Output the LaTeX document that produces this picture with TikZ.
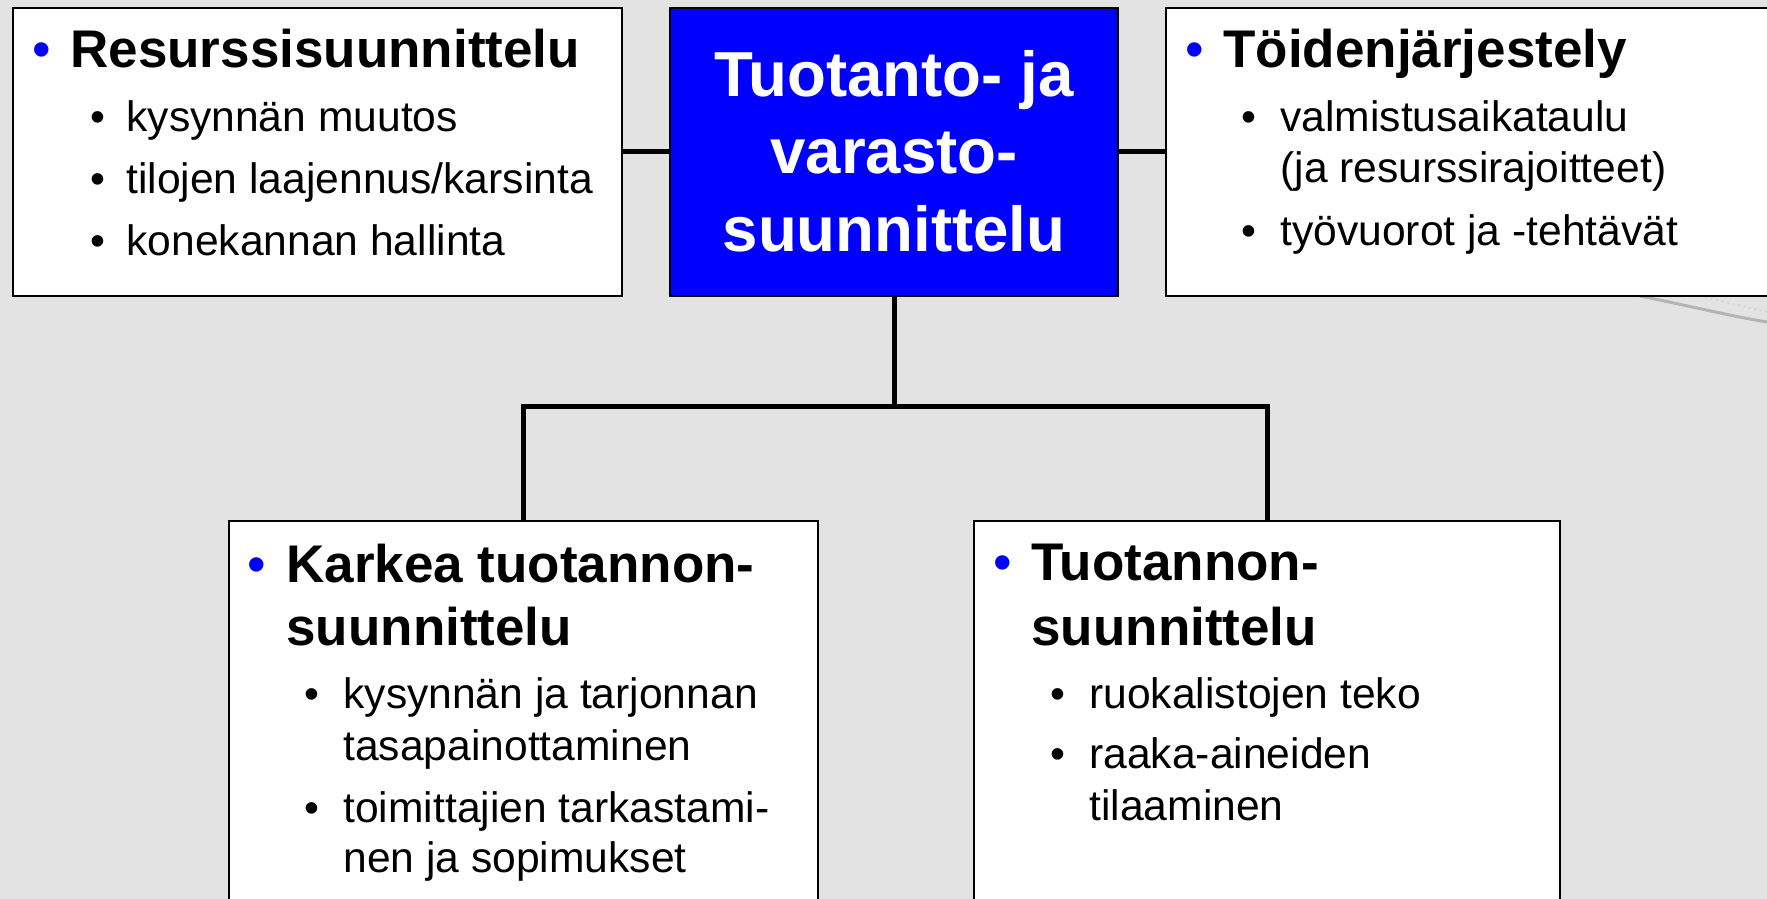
\documentclass[tikz,border=0pt]{standalone}
\usepackage{fontspec}
\setmainfont{Liberation Sans}
\definecolor{bgc}{HTML}{E3E3E3}
\definecolor{pblue}{HTML}{0000FF}
\definecolor{arcgray}{HTML}{B4B4B4}
\begin{document}
\begin{tikzpicture}[x=0.5pt,y=-0.5pt,
  box/.style={draw=black,line width=1pt,fill=white,rectangle,inner sep=0pt,anchor=north west},
  conn/.style={draw=black,line width=2.5pt},
  head/.style={anchor=base west,inner sep=0pt,font=\bfseries\fontsize{26.5}{32}\selectfont},
  hbul/.style={anchor=base west,inner sep=0pt,text=pblue,font=\fontsize{26.5}{32}\selectfont},
  sbul/.style={anchor=base west,inner sep=0pt,font=\fontsize{21.3}{25.6}\selectfont},
  sub/.style={anchor=base west,inner sep=0pt,font=\fontsize{21.3}{25.6}\selectfont},
  ctrtext/.style={anchor=base,inner sep=0pt,text=white,font=\bfseries\fontsize{31.8}{38}\selectfont}]
\clip (0,0) rectangle (1767,899);
\fill[bgc] (0,0) rectangle (1767,899);
% faint background arc
\draw[arcgray,line width=1.5pt] (1640,296) .. controls (1690,306) and (1730,316) .. (1767,322);
\draw[arcgray!60,line width=0.8pt,dotted] (1700,296) .. controls (1730,303) and (1750,308) .. (1767,312);

% boxes
\node[box,minimum width=304.5pt,minimum height=144pt] (res) at (12,7) {};
\node[box,fill=pblue,minimum width=224pt,minimum height=144pt] (ctr) at (669,7) {};
\node[box,minimum width=320pt,minimum height=144pt] (toi) at (1165,7) {};
\node[box,minimum width=294.5pt,minimum height=230pt] (kar) at (228,520) {};
\node[box,minimum width=293pt,minimum height=230pt] (tuo) at (973,520) {};

% connectors
\coordinate (bus) at (ctr.south |- 0,406);
\draw[conn] (res.east) -- (ctr.west);
\draw[conn] (ctr.east) -- (toi.west);
\draw[conn] (ctr.south) -- (bus);
\draw[conn,line join=miter] (kar.north) |- (bus) -| (tuo.north);

% center text
\node[ctrtext] (c1) at (894,97) {Tuotanto- ja};
\node[ctrtext] (c2) at (894,174) {varasto-};
\node[ctrtext] (c3) at (894,251) {suunnittelu};

% left top box (L=12)
\node[hbul] (rb) at (32,68) {•};
\node[head] (rh) at (70,68) {Resurssisuunnittelu};
\node[sbul] (rs1b) at (90,132) {•};
\node[sub] (rs1) at (126,132) {kysynnän muutos};
\node[sbul] (rs2b) at (90,193) {•};
\node[sub] (rs2) at (126,193) {tilojen laajennus/karsinta};
\node[sbul] (rs3b) at (90,255) {•};
\node[sub] (rs3) at (126,255) {konekannan hallinta};

% right top box (L=1165)
\node[hbul] (tb) at (1185,68) {•};
\node[head] (th) at (1223,68) {Töidenjärjestely};
\node[sbul] (ts1b) at (1241,132) {•};
\node[sub] (ts1) at (1280,132) {valmistusaikataulu};
\node[sub] (ts1c) at (1280,183) {(ja resurssirajoitteet)};
\node[sbul] (ts2b) at (1241,245) {•};
\node[sub] (ts2) at (1280,245) {työvuorot ja -tehtävät};

% bottom left box (L=228)
\node[hbul] (kb) at (247,582) {•};
\node[head] (kh1) at (286,582) {Karkea tuotannon-};
\node[head] (kh2) at (286,645) {suunnittelu};
\node[sbul] (ks1b) at (304,708) {•};
\node[sub] (ks1) at (343,708) {kysynnän ja tarjonnan};
\node[sub] (ks1c) at (343,760) {tasapainottaminen};
\node[sbul] (ks2b) at (304,822) {•};
\node[sub] (ks2) at (343,822) {toimittajien tarkastami-};
\node[sub] (ks2c) at (343,872) {nen ja sopimukset};

% bottom right box (L=973)
\node[hbul] (ub) at (993,580) {•};
\node[head] (uh1) at (1031,580) {Tuotannon-};
\node[head] (uh2) at (1031,645) {suunnittelu};
\node[sbul] (us1b) at (1050,708) {•};
\node[sub] (us1) at (1089,708) {ruokalistojen teko};
\node[sbul] (us2b) at (1050,768) {•};
\node[sub] (us2) at (1089,768) {raaka-aineiden};
\node[sub] (us2c) at (1089,820) {tilaaminen};
\end{tikzpicture}
\end{document}
